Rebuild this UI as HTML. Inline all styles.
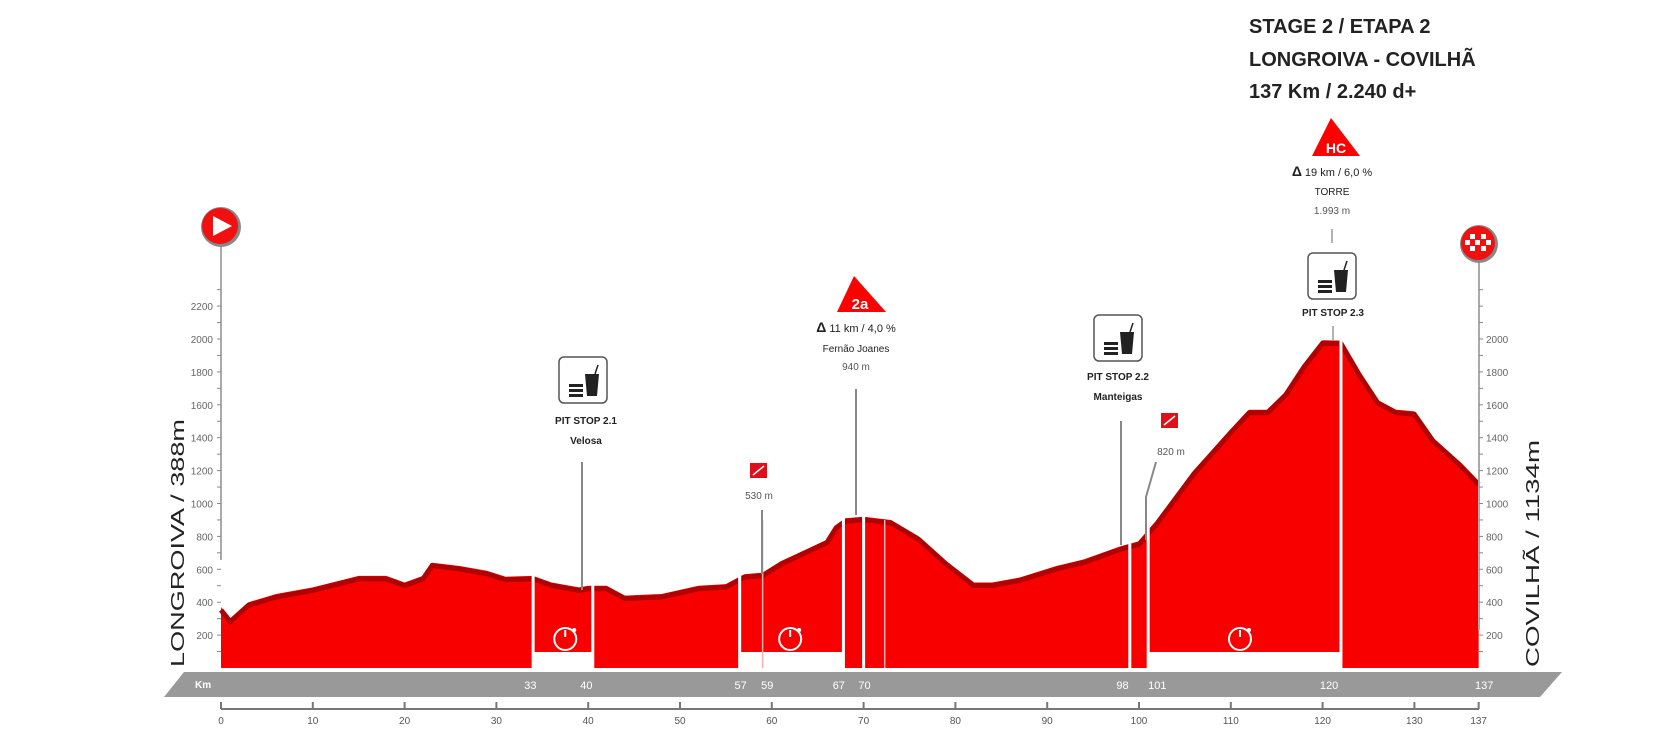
<!DOCTYPE html>
<html><head><meta charset="utf-8"><style>
html,body{margin:0;padding:0;background:#fff;width:1680px;height:743px;overflow:hidden}
svg{display:block}
text{font-family:"Liberation Sans",sans-serif}
</style></head><body>
<svg id="s" width="1680" height="743" viewBox="0 0 1680 743" xmlns="http://www.w3.org/2000/svg">
<g id="prof"></g>
<text x="1249" y="33" font-size="20" font-weight="bold" fill="#222">STAGE 2 / ETAPA 2</text>
<text x="1249" y="66" font-size="20" font-weight="bold" fill="#222">LONGROIVA - COVILHÃ</text>
<text x="1249" y="98" font-size="20" font-weight="bold" fill="#222">137 Km / 2.240 d+</text>
<polygon points="1331,118 1312,156 1360,156" fill="#f00"/>
<text x="1336" y="153" font-size="14" font-weight="bold" fill="#fff" text-anchor="middle">HC</text>
<text x="1332" y="176" font-size="11" fill="#222" text-anchor="middle"><tspan font-weight="bold" font-size="14">Δ</tspan> 19 km / 6,0 %</text>
<text x="1332" y="195" font-size="10" fill="#222" text-anchor="middle">TORRE</text>
<text x="1332" y="214" font-size="10" fill="#555" text-anchor="middle">1.993 m</text>
<line x1="1332" y1="229" x2="1332" y2="243" stroke="#666"/>
<polygon points="854,276 837,312 886,312" fill="#f00"/>
<text x="860" y="309" font-size="15" font-weight="bold" fill="#fff" text-anchor="middle">2a</text>
<text x="856" y="332" font-size="11" fill="#222" text-anchor="middle"><tspan font-weight="bold" font-size="14">Δ</tspan> 11 km / 4,0 %</text>
<text x="856" y="352" font-size="10" fill="#222" text-anchor="middle">Fernão Joanes</text>
<text x="856" y="370" font-size="10" fill="#555" text-anchor="middle">940 m</text>
<line x1="856" y1="389" x2="856" y2="515" stroke="#888" stroke-width="2"/>
<rect x="750" y="463" width="17" height="15" fill="#e0101a"/>
<line x1="753" y1="475" x2="764" y2="466" stroke="#fff" stroke-width="1.5"/>
<text x="759" y="499" font-size="10" fill="#555" text-anchor="middle">530 m</text>
<line x1="762" y1="510" x2="762" y2="574" stroke="#888" stroke-width="2"/>
<rect x="1161" y="413" width="17" height="15" fill="#e0101a"/>
<line x1="1164" y1="425" x2="1175" y2="416" stroke="#fff" stroke-width="1.5"/>
<text x="1171" y="455" font-size="10" fill="#555" text-anchor="middle">820 m</text>
<polyline points="1156,462 1146,497 1146,540" fill="none" stroke="#888" stroke-width="2"/>
<g id="pits"></g>
<text x="586" y="424" font-size="10" font-weight="bold" fill="#222" text-anchor="middle">PIT STOP 2.1</text>
<text x="586" y="444" font-size="10" font-weight="bold" fill="#222" text-anchor="middle">Velosa</text>
<line x1="582" y1="462" x2="582" y2="590" stroke="#888" stroke-width="2"/>
<text x="1118" y="380" font-size="10" font-weight="bold" fill="#222" text-anchor="middle">PIT STOP 2.2</text>
<text x="1118" y="400" font-size="10" font-weight="bold" fill="#222" text-anchor="middle">Manteigas</text>
<line x1="1121" y1="421" x2="1121" y2="545" stroke="#888" stroke-width="2"/>
<text x="1333" y="316" font-size="10" font-weight="bold" fill="#222" text-anchor="middle">PIT STOP 2.3</text>
<line x1="1333" y1="326" x2="1333" y2="340" stroke="#666"/>
<line x1="221" y1="244" x2="221" y2="560" stroke="#aaa" stroke-width="2"/>
<circle cx="221" cy="227" r="20" fill="#888"/><circle cx="220" cy="226" r="18" fill="#f01010"/>
<polygon points="213,216 213,236 232,226" fill="#fff"/>
<line x1="1479" y1="260" x2="1479" y2="630" stroke="#aaa" stroke-width="2"/>
<circle cx="1479" cy="244" r="19" fill="#888"/><circle cx="1478" cy="243" r="17" fill="#f01010"/>
<g fill="#fff"><rect x="1470" y="234" width="5" height="5"/><rect x="1481" y="234" width="5" height="5"/><rect x="1475" y="240" width="5" height="5"/><rect x="1465" y="240" width="5" height="5"/><rect x="1486" y="240" width="5" height="5"/><rect x="1470" y="246" width="5" height="5"/><rect x="1481" y="246" width="5" height="5"/></g>
<text transform="translate(184,667) rotate(-90)" font-size="18" fill="#222" textLength="248" lengthAdjust="spacingAndGlyphs">LONGROIVA / 388m</text>
<text transform="translate(1539,667) rotate(-90)" font-size="18" fill="#222" textLength="227" lengthAdjust="spacingAndGlyphs">COVILHÃ / 1134m</text>
<polygon points="184,672 1562,672 1540,697 164,697" fill="#999"/>
<text x="195" y="688" font-size="10" fill="#fff" font-weight="bold">Km</text>
<g id="kb" font-size="11" fill="#fff" text-anchor="middle"></g>
<line x1="221" y1="709" x2="1479" y2="709" stroke="#777" stroke-width="2"/>
<g id="ax"></g>
</svg>
<script>
const NS="http://www.w3.org/2000/svg";
function X(k){return 221+9.18*k;}
function Y(e){return 668-0.1645*e;}
function el(t,a,p){const e=document.createElementNS(NS,t);for(const k in a)e.setAttribute(k,a[k]);(p||document.getElementById('s')).appendChild(e);return e;}
const pts=[[0,370],[1,300],[3,400],[6,450],[10,490],[15,560],[18,560],[20,520],[22,560],[23,640],[26,620],[29,590],[31,555],[34,560],[36,520],[39,490],[40,500],[42,500],[44,440],[48,450],[52,500],[55,510],[57,570],[59,580],[61,650],[66,780],[67,870],[68,910],[70,920],[73,900],[76,800],[79,650],[82,520],[84,520],[87,550],[91,620],[94,660],[98,740],[100,770],[102,900],[106,1200],[110,1450],[112,1570],[114,1570],[116,1680],[118,1850],[120,1993],[122,1990],[124,1800],[126,1630],[128,1570],[130,1560],[132,1400],[135,1250],[137,1134]];
const g=document.getElementById('prof');
let d="M"+X(0)+","+Y(0);pts.forEach(p=>d+=" L"+X(p[0]).toFixed(1)+","+Y(p[1]).toFixed(1));d+=" L"+X(137)+","+Y(0)+"Z";
el('path',{d:d,fill:'#f80000'},g);
let d2="";pts.forEach((p,i)=>d2+=(i?" L":"M")+X(p[0]).toFixed(1)+","+(Y(p[1])+3).toFixed(1));
el('path',{d:d2,fill:'none',stroke:'#b00000','stroke-width':5},g);
[[34,40.5],[56.5,67.8],[101,122]].forEach(z=>el('rect',{x:X(z[0]),y:652,width:X(z[1])-X(z[0]),height:20,fill:'#fff'},g));
[34,40.5,56.5,67.8,70,99,101,122].forEach(k=>el('line',{x1:X(k),y1:300,x2:X(k),y2:670,stroke:'#fff','stroke-width':3},g));
[59,72.3].forEach(k=>el('line',{x1:X(k),y1:520,x2:X(k),y2:668,stroke:'#f7b0b0','stroke-width':1.5},g));
[37.5,62,111].forEach(k=>{const cx=X(k);el('circle',{cx:cx,cy:639,r:11,fill:'none',stroke:'#fff','stroke-width':2},g);el('line',{x1:cx,y1:630,x2:cx,y2:637,stroke:'#fff','stroke-width':2},g);el('circle',{cx:cx+9,cy:630,r:2,fill:'#fff'},g);});
for(let e=100;e<=2300;e+=100){const y=Y(e);const big=e%200==0;
 el('line',{x1:217,y1:y,x2:221,y2:y,stroke:'#888'});el('line',{x1:1479,y1:y,x2:1483,y2:y,stroke:'#888'});
 if(big&&e<=2200){const t=el('text',{x:213,y:y+4,'font-size':10,fill:'#666','text-anchor':'end'});t.textContent=e;}
 if(big&&e<=2000){const t=el('text',{x:1486,y:y+4,'font-size':10,fill:'#666'});t.textContent=e;}}
const ax=document.getElementById('ax');
for(let k=0;k<=137;k+=10){el('line',{x1:X(k),y1:702,x2:X(k),y2:709,stroke:'#777','stroke-width':2},ax);const t=el('text',{x:X(k),y:724,'font-size':10,fill:'#555','text-anchor':'middle'},ax);t.textContent=k;}
el('line',{x1:X(137),y1:702,x2:X(137),y2:709,stroke:'#777','stroke-width':2},ax);
{const t=el('text',{x:X(137),y:724,'font-size':10,fill:'#555','text-anchor':'middle'},ax);t.textContent=137;}
const kb=document.getElementById('kb');
[[33,33.7],[40,39.8],[57,56.6],[59,59.5],[67,67.3],[70,70.1],[98,98.2],[101,102],[120,120.7],[137,137.6]].forEach(p=>{const t=el('text',{x:X(p[1]),y:689},kb);t.textContent=p[0];});
const pg=document.getElementById('pits');
[[583,381],[1118,339],[1332,277]].forEach(p=>{const x=p[0]-24,y=p[1]-24;
 el('rect',{x:x,y:y,width:48,height:46,rx:5,fill:'#fff',stroke:'#555','stroke-width':1.5},pg);
 el('rect',{x:x+10,y:y+27,width:14,height:3,fill:'#222'},pg);el('rect',{x:x+10,y:y+32,width:14,height:3,fill:'#222'},pg);el('rect',{x:x+10,y:y+37,width:14,height:3,fill:'#222'},pg);
 el('polygon',{points:(x+26)+","+(y+17)+" "+(x+40)+","+(y+17)+" "+(x+38)+","+(y+39)+" "+(x+28)+","+(y+39),fill:'#222'},pg);
 el('line',{x1:x+36,y1:y+17,x2:x+39,y2:y+8,stroke:'#222','stroke-width':1.5},pg);});
</script>
</body></html>
